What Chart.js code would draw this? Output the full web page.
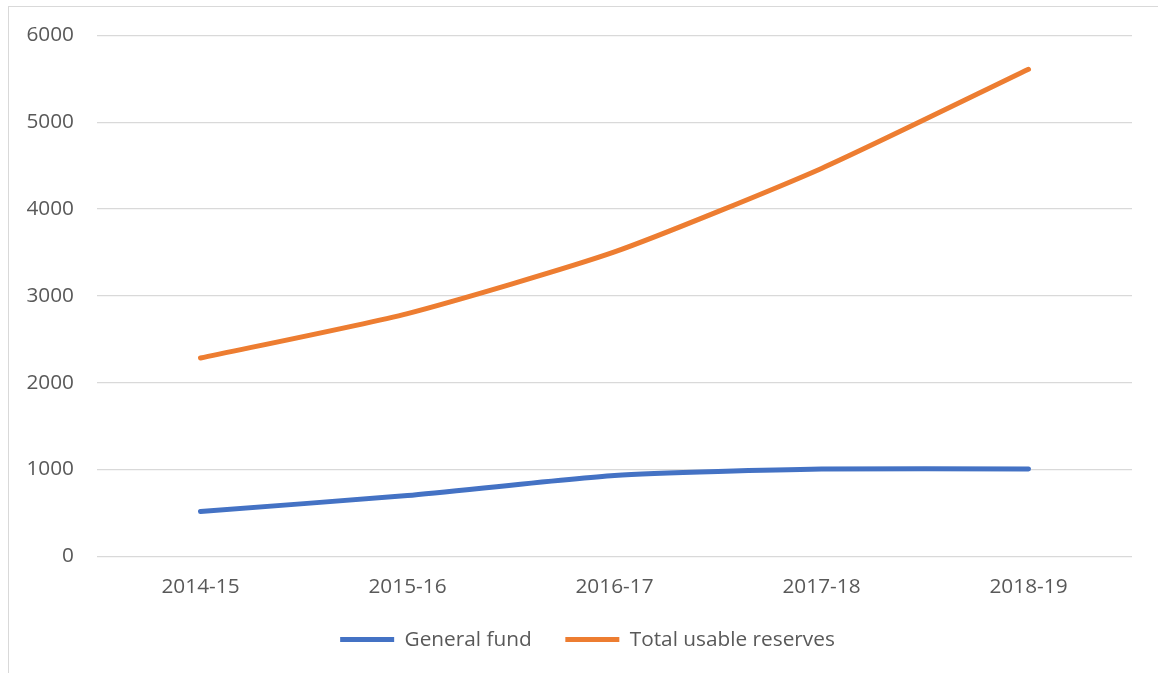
<!DOCTYPE html>
<html lang="en">
<head>
    <meta charset="UTF-8">
    <title>Reserves</title>
    <script src="https://cdn.jsdelivr.net/npm/chart.js"></script>
    <style>
        html, body { margin: 0; padding: 0; background: #fff; overflow: hidden; }
        #moldura {
            position: absolute; left: 8px; top: 6px; width: 1200px; height: 700px;
            border-left: 1px solid #d9d9d9; border-top: 1px solid #d9d9d9;
        }
        #grafico { position: absolute; left: 0; top: 0; width: 1158px; height: 673px; }
    </style>
</head>
<body>
    <div id="moldura"></div>
    <div id="grafico"><canvas id="myChartCanvas"></canvas></div>

<script>
    // dados
    const anos = ['2014-15', '2015-16', '2016-17', '2017-18', '2018-19'];
    const generalFund = [516, 700, 931, 1005, 1005];
    const totalUsable = [2284, 2796, 3506, 4468, 5610];
    const yTicks = [0, 1000, 2000, 3000, 4000, 5000, 6000];

    const fonte = { family: '"Open Sans", sans-serif', size: 20.8 };
    const corTexto = '#595959';

    const dados = {
        labels: anos,
        datasets: [{
            label: 'General fund',
            data: generalFund,
            borderColor: '#4472C4',
            backgroundColor: '#4472C4',
            borderWidth: 5,
            borderCapStyle: 'round',
            borderJoinStyle: 'round',
            pointRadius: 0,
            tension: 0.2,
            fill: false
        }, {
            label: 'Total usable reserves',
            data: totalUsable,
            borderColor: '#ED7D31',
            backgroundColor: '#ED7D31',
            borderWidth: 5,
            borderCapStyle: 'round',
            borderJoinStyle: 'round',
            pointRadius: 0,
            tension: 0.2,
            fill: false
        }]
    };

    // legenda padrao, com um pouco de espaco a mais depois do primeiro item
    function gerarLegenda(chart) {
        const itens = Chart.defaults.plugins.legend.labels.generateLabels(chart);
        itens.forEach(function (item) { item.lineWidth = 0; });
        itens[0].text = itens[0].text + '\u00a0\u00a0\u00a0\u00a0';
        return itens;
    }

    // empurra a legenda um pouco para a direita, como no original
    const moverLegenda = {
        id: 'moverLegenda',
        afterLayout: function (chart) {
            chart.legend.left += 8;
            chart.legend.right += 8;
        }
    };

    const config = {
        type: 'line',
        data: dados,
        plugins: [moverLegenda],
        options: {
            responsive: false,
            animation: false,
            layout: { padding: { left: 27, right: 26, top: 23, bottom: 13 } },
            plugins: {
                tooltip: { enabled: false },
                legend: {
                    position: 'bottom',
                    labels: {
                        color: corTexto,
                        font: fonte,
                        boxWidth: 54,
                        boxHeight: 5,
                        padding: 12,
                        generateLabels: gerarLegenda
                    }
                }
            },
            scales: {
                x: {
                    offset: true,
                    grid: { display: false, drawTicks: false },
                    border: { display: false },
                    ticks: { color: corTexto, font: fonte, padding: 18, maxRotation: 0 }
                },
                y: {
                    min: 0,
                    max: 6000,
                    afterBuildTicks: function (axis) {
                        axis.ticks = yTicks.map(function (v) { return { value: v }; });
                    },
                    afterFit: function (axis) { axis.width = 70; },
                    grid: { color: '#d9d9d9', lineWidth: 1.3, drawTicks: false },
                    border: { display: false },
                    ticks: {
                        color: corTexto, font: fonte, padding: 23,
                        callback: function (v) { return String(v); }
                    }
                }
            }
        }
    };

    const canvas = document.getElementById('myChartCanvas');
    canvas.width = 1158;
    canvas.height = 673;
    let myChart = new Chart(canvas, config);
</script>
</body>
</html>
